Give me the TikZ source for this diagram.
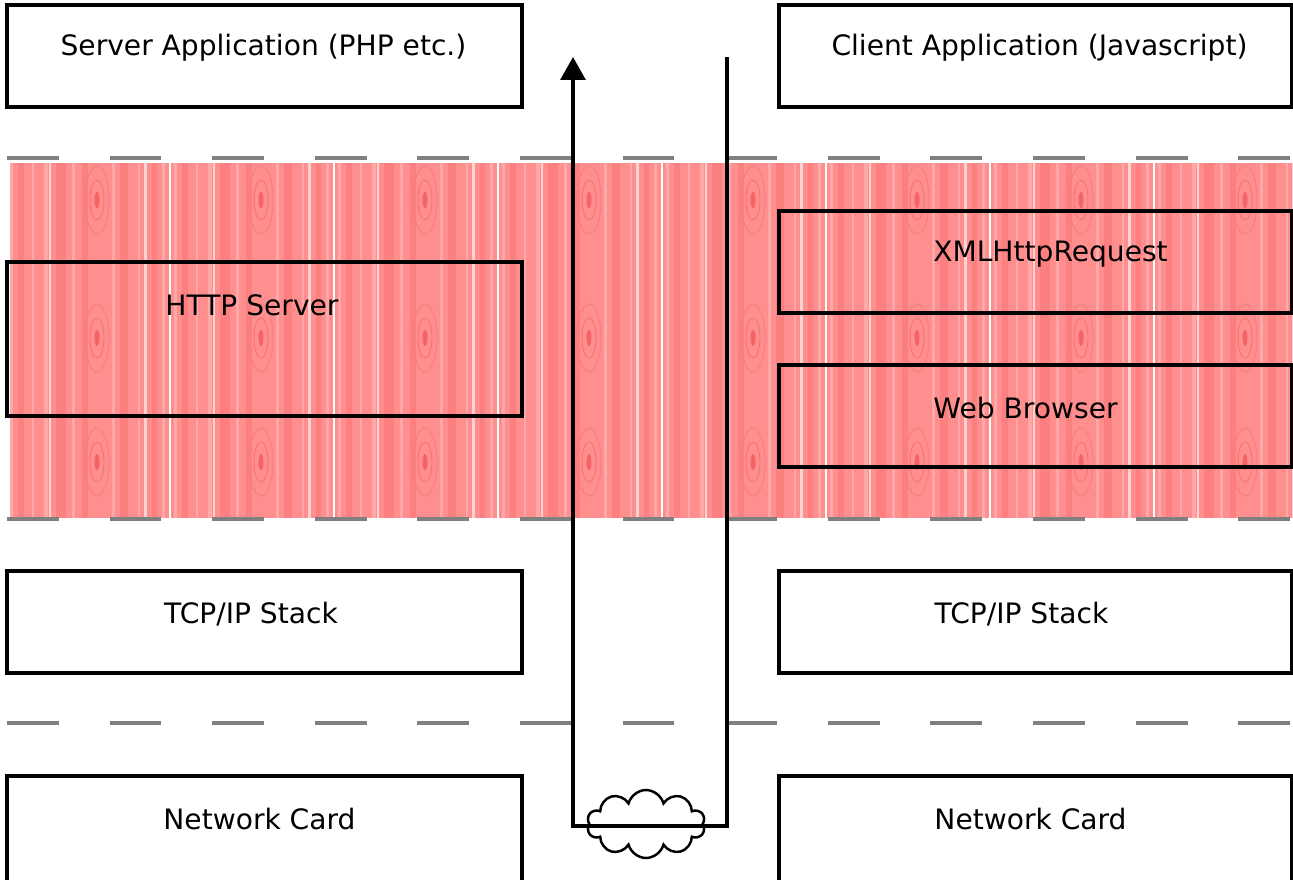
\documentclass[tikz,border=0pt]{standalone}
\usepackage{fontspec}
\setmainfont{DejaVu Sans}
\usetikzlibrary{arrows.meta, shapes.symbols}
\definecolor{woodbase}{RGB}{255,142,142}
\definecolor{woodlight}{RGB}{255,168,168}
\definecolor{wooddark}{RGB}{252,128,128}
\definecolor{woodknot}{RGB}{240,80,80}
\definecolor{layergray}{RGB}{128,128,128}

\begin{document}
\begin{tikzpicture}[x=0.02cm, y=-0.02cm,
    box/.style={draw, line width=2.2pt, minimum width=10.3cm, minimum height=2.04cm, inner sep=0pt},
    rbox/.style={box, minimum width=10.26cm},
    lbl/.style={font=\fontsize{16}{19}\selectfont, inner sep=0pt},
    layer/.style={layergray, line width=2.3pt, dash pattern=on 29.5pt off 28.9pt},
    wire/.style={line width=2.2pt}]

    \useasboundingbox (0,0) rectangle (1293,879);

    % Wood band behind the HTTP layer
    \fill[woodbase] (10,163) rectangle (1293,518);
    \begin{scope}
        \clip (10,163) rectangle (1293,518);
        \foreach \t in {0,...,7} {
            \foreach \o/\w/\c in {4/3/woodlight, 12/6/wooddark, 26/2/woodlight, 38/4/woodlight,
                                  43/2/white!50!woodlight, 50/10/wooddark, 66/3/woodlight, 76/6/wooddark,
                                  106/3/woodlight, 114/8/wooddark, 132/2/woodlight, 138/3/white!50!woodlight,
                                  146/5/wooddark, 156/3/woodlight} {
                \fill[\c] (6+164*\t+\o,163) rectangle ++(\w,355);
            }
            \foreach \y in {200,338,462} {
                \draw[woodknot!30!woodbase, line width=0.5pt] (97+164*\t,\y) ellipse [x radius=12, y radius=34];
                \draw[woodknot!45!woodbase, line width=0.5pt] (97+164*\t,\y) ellipse [x radius=7, y radius=20];
                \fill[woodknot!70!woodbase] (97+164*\t,\y) ellipse [x radius=2.5, y radius=8];
            }
            \draw[white, line width=1pt] (6+164*\t,163) -- ++(0,355);
        }
    \end{scope}

    % Layer separators
    \foreach \y in {158,519,723} {
        \draw[layer] (7,\y) -- (1293,\y);
    }

    % Server side
    \node[box] (srvapp) at (264.5,56) {};
    \node[box, minimum height=3.08cm] (httpsrv) at (264.5,339) {};
    \node[box] (srvtcp) at (264.5,622) {};
    \node[box, minimum height=2.4cm] (srvnic) at (264.5,836) {};

    % Client side
    \node[rbox] (cliapp) at (1035.5,56) {};
    \node[rbox] (xhr) at (1035.5,262) {};
    \node[rbox] (browser) at (1035.5,416) {};
    \node[rbox] (clitcp) at (1035.5,622) {};
    \node[rbox, minimum height=2.4cm] (clinic) at (1035.5,836) {};

    % Labels
    \node[lbl] (srvapptxt) at ([xshift=-0.02cm, yshift=-0.9cm]srvapp.north) {Server Application (PHP etc.)};
    \node[lbl] (httpsrvtxt) at ([xshift=-0.25cm, yshift=-0.9cm]httpsrv.north) {HTTP Server};
    \node[lbl] (srvtcptxt) at ([xshift=-0.27cm, yshift=-0.9cm]srvtcp.north) {TCP/IP Stack};
    \node[lbl] (srvnictxt) at ([xshift=-0.1cm, yshift=-0.9cm]srvnic.north) {Network Card};
    \node[lbl] (cliapptxt) at ([xshift=0.08cm, yshift=-0.9cm]cliapp.north) {Client Application (Javascript)};
    \node[lbl] (xhrtxt) at ([xshift=0.3cm, yshift=-0.9cm]xhr.north) {XMLHttpRequest};
    \node[lbl] (browsertxt) at ([xshift=-0.2cm, yshift=-0.9cm]browser.north) {Web Browser};
    \node[lbl] (clitcptxt) at ([xshift=-0.28cm, yshift=-0.9cm]clitcp.north) {TCP/IP Stack};
    \node[lbl] (clinictxt) at ([xshift=-0.1cm, yshift=-0.9cm]clinic.north) {Network Card};

    % Request down, across the net, reply up
    \node[cloud, draw, line width=1.4pt, cloud puffs=10, aspect=1.8, inner sep=0pt,
          minimum width=2.36cm, minimum height=1.36cm] (inet) at (646,824) {};
    \coordinate (reqtop) at (727,57);
    \coordinate (reqbot) at (727,826);
    \coordinate (repbot) at (573,826);
    \coordinate (reptop) at (573,57);
    \draw[wire, -{Triangle[width=14pt, length=13pt]}] (reqtop) -- (reqbot) -- (repbot) -- (reptop);

\end{tikzpicture}
\end{document}
